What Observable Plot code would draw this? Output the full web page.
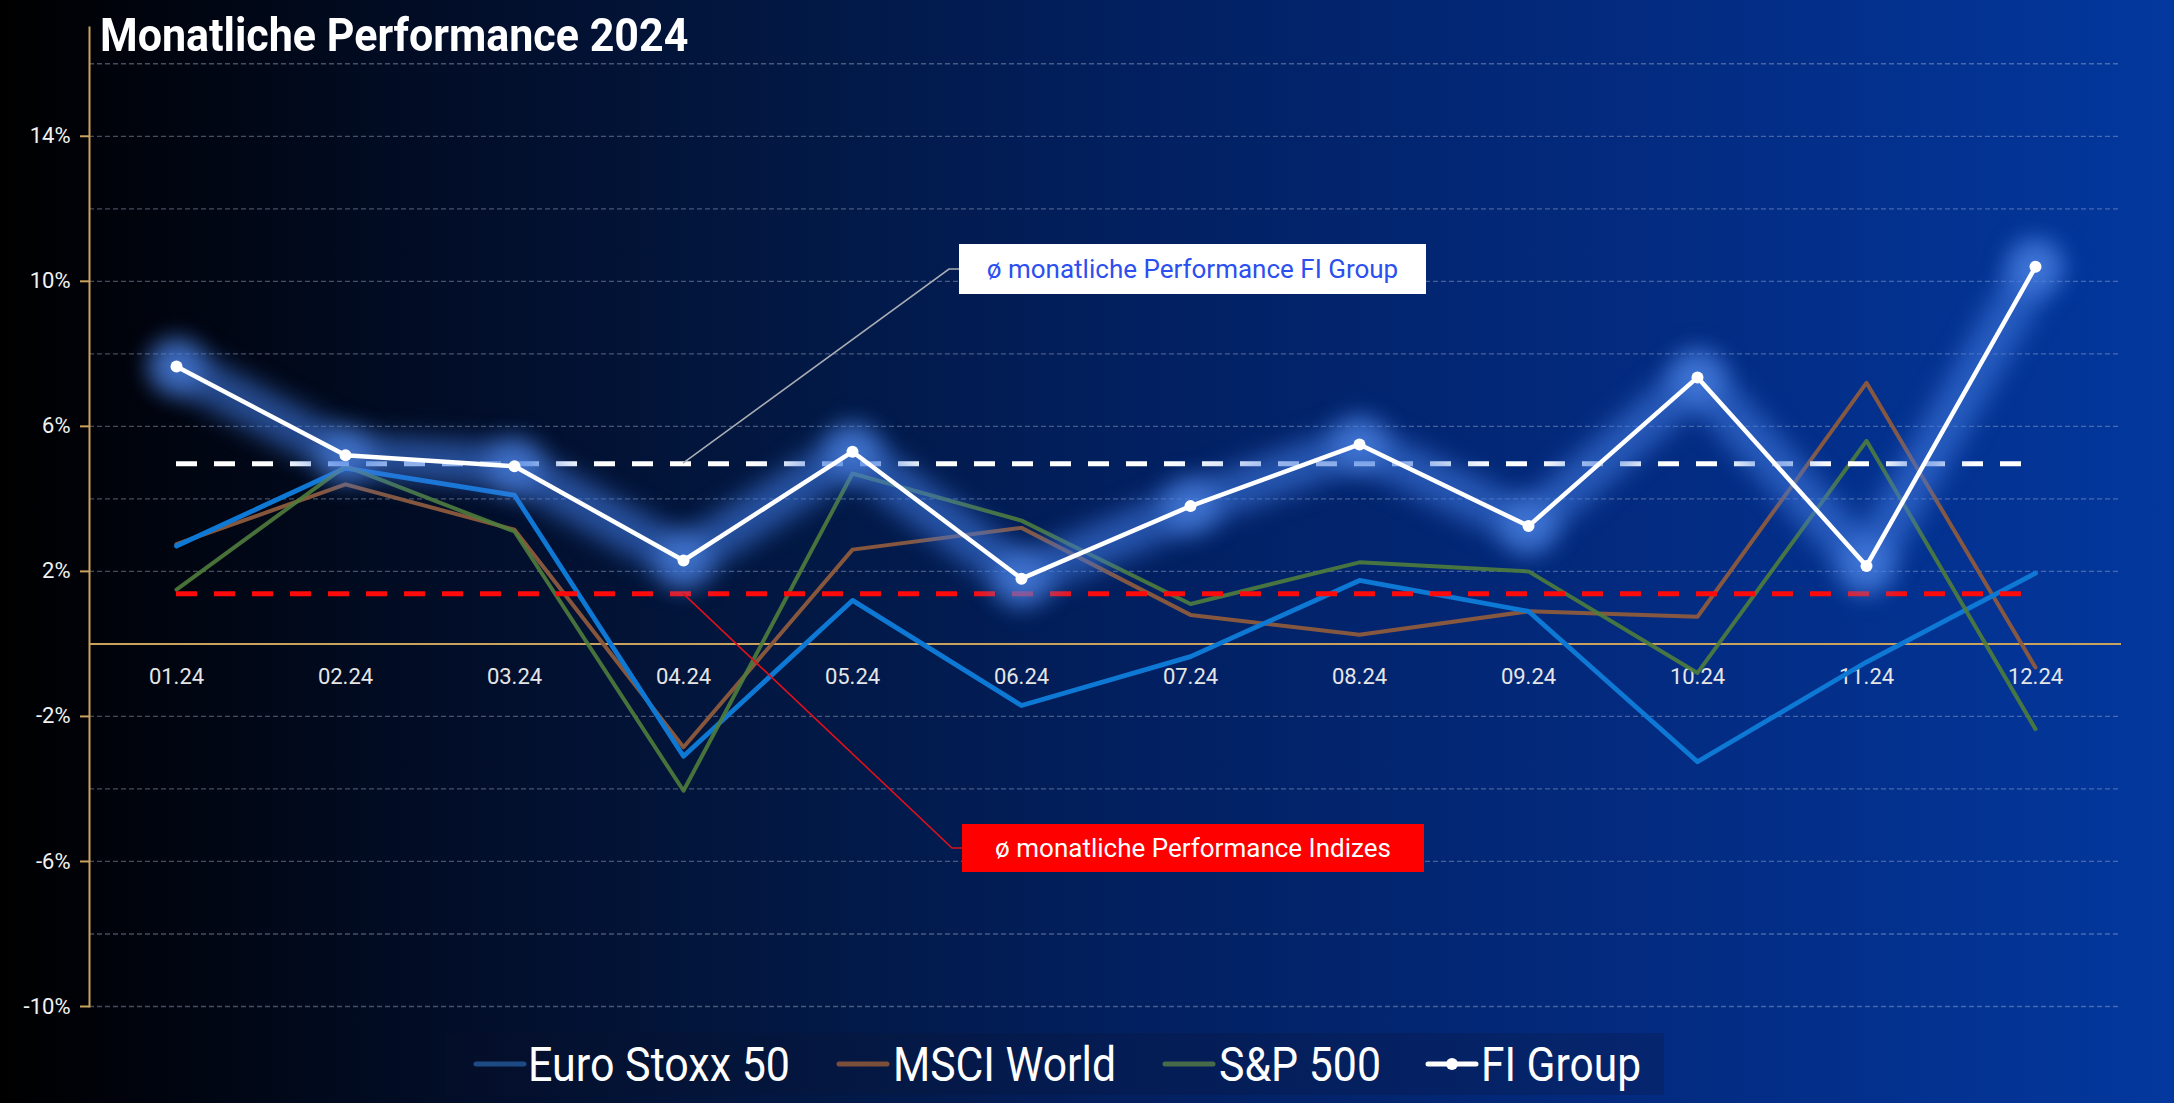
<!DOCTYPE html>
<html><head><meta charset="utf-8">
<script src="https://cdn.jsdelivr.net/npm/d3@7"></script>
<script src="https://cdn.jsdelivr.net/npm/@observablehq/plot@0.6"></script>
<style>
html,body{margin:0;padding:0;width:2174px;height:1103px;overflow:hidden;}
body{position:relative;font-family:Roboto,"Noto Sans",sans-serif;
 background:linear-gradient(to right,#000000 0%,#00040e 7%,#020f2c 23%,#021946 38%,#021f5e 51%,#032a7e 74%,#03369a 97%,#03389e 100%);}
#chart{position:absolute;left:0;top:0;}
#title{position:absolute;left:100px;top:11px;color:#fff;font-weight:700;font-size:47px;line-height:1;
 transform:scaleX(0.915);transform-origin:left top;white-space:nowrap;}
#legend{position:absolute;left:446px;top:1033px;}
.glow{filter:blur(12px);}
</style></head>
<body>
<div id="chart"></div>
<div id="title">Monatliche Performance 2024</div>
<svg id="legend" width="1218" height="62"></svg>
<script>
const months = ["01.24","02.24","03.24","04.24","05.24","06.24","07.24","08.24","09.24","10.24","11.24","12.24"];
const euroStoxx = [2.7, 4.85, 4.1, -3.1, 1.2, -1.7, -0.35, 1.75, 0.9, -3.25, -0.5, 1.95];
const msciWorld = [2.75, 4.4, 3.15, -2.85, 2.6, 3.2, 0.8, 0.25, 0.9, 0.75, 7.2, -0.65];
const sp500 = [1.5, 4.9, 3.1, -4.05, 4.7, 3.4, 1.1, 2.25, 2.0, -0.8, 5.6, -2.35];
const fiGroup = [7.65, 5.2, 4.9, 2.3, 5.3, 1.8, 3.8, 5.5, 3.25, 7.35, 2.15, 10.4];
const avgFI = 4.97;
const avgIndizes = 1.38;
const seriesNames = ["Euro Stoxx 50", "MSCI World", "S&P 500", "FI Group"];
const yTickValues = [14, 10, 6, 2, -2, -6, -10];
const gridValues = [16, 14, 12, 10, 8, 6, 4, 2, -2, -4, -6, -8, -10];
const annotFI = "ø monatliche Performance FI Group";
const annotIdx = "ø monatliche Performance Indizes";
const annotMonth = "04.24";

const lineColors = {"Euro Stoxx 50": "#0e78d5", "MSCI World": "#8d5b3d", "S&P 500": "#4f7d3c", "FI Group": "#ffffff"};
const legendColors = {"Euro Stoxx 50": "#1d4a84", "MSCI World": "#7b4f39", "S&P 500": "#466b4b", "FI Group": "#ffffff"};

const toRows = (name, vals) => months.map((m, i) => ({month: m, series: name, value: vals[i]}));
const euroRows = toRows("Euro Stoxx 50", euroStoxx);
const msciRows = toRows("MSCI World", msciWorld);
const spRows = toRows("S&P 500", sp500);
const fiRows = toRows("FI Group", fiGroup);
const avgRows = [
  {y: avgIndizes, a: months[0], b: months[months.length - 1], c: "#ff0a0a"},
  {y: avgFI, a: months[0], b: months[months.length - 1], c: "#ffffff"}
];

const gold = "#c9a25e";
const font = "Roboto, 'Noto Sans', sans-serif";

const plot = Plot.plot({
  width: 2174, height: 1103,
  marginTop: 27, marginBottom: 97, marginLeft: 89, marginRight: 53,
  style: {background: "transparent", color: "#ffffff", fontFamily: font, overflow: "visible"},
  x: {type: "point", domain: months, padding: 0.5, axis: null},
  y: {domain: [-10, 17], axis: null},
  marks: [
    Plot.ruleY(gridValues, {stroke: "#a6b3cc", strokeOpacity: 0.42, strokeWidth: 1.3, strokeDasharray: "5,3"}),
    Plot.ruleY([0], {stroke: gold, strokeWidth: 2}),
    Plot.frame({anchor: "left", stroke: gold, strokeWidth: 2}),
    Plot.axisY(yTickValues, {tickSize: 9, tickPadding: 10, stroke: gold, strokeWidth: 2, fill: "#f2f2f2",
      fontSize: 22, tickFormat: d => d + "%"}),
    Plot.text(months, {x: d => d, y: () => 0, dy: 33, text: d => d, fill: "#e6e6e6", fontSize: 22}),
    Plot.line(msciRows, {x: "month", y: "value", stroke: lineColors["MSCI World"], strokeWidth: 4, strokeOpacity: 0.95}),
    Plot.line(euroRows, {x: "month", y: "value", stroke: lineColors["Euro Stoxx 50"], strokeWidth: 4.8}),
    Plot.line(spRows, {x: "month", y: "value", stroke: lineColors["S&P 500"], strokeWidth: 4, strokeOpacity: 0.9}),
    Plot.ruleY(avgRows, {y: "y", x1: "a", x2: "b", stroke: "c", strokeWidth: 5, strokeDasharray: "21,17"}),
    Plot.line(fiRows, {x: "month", y: "value", stroke: "#3d76dc", strokeWidth: 44, strokeOpacity: 0.62,
      strokeLinejoin: "round", strokeLinecap: "round", className: "glow"}),
    Plot.dot(fiRows, {x: "month", y: "value", r: 28, fill: "#4f86e6", fillOpacity: 0.6, className: "glow"}),
    Plot.line(fiRows, {x: "month", y: "value", stroke: "#ffffff", strokeWidth: 4.5}),
    Plot.dot(fiRows, {x: "month", y: "value", r: 6, fill: "#ffffff"})
  ]
});
document.getElementById("chart").appendChild(plot);

// annotations anchored via the plot's own scales
const sx = plot.scale("x"), sy = plot.scale("y");
const svg = d3.select(plot);
const ax = sx.apply(annotMonth);
const g = svg.append("g");
function callout(yVal, boxX, boxY, boxW, boxH, lineColor, boxFill, textFill, label) {
  const y0 = sy.apply(yVal);
  const cy = boxY + boxH / 2;
  g.append("polyline")
    .attr("points", `${ax},${y0} ${boxX - 10},${cy} ${boxX},${cy}`)
    .attr("fill", "none").attr("stroke", lineColor).attr("stroke-width", 1.6);
  g.append("rect").attr("x", boxX).attr("y", boxY).attr("width", boxW).attr("height", boxH).attr("fill", boxFill);
  g.append("text").attr("x", boxX + boxW / 2).attr("y", cy).attr("dy", "0.35em")
    .attr("text-anchor", "middle").attr("fill", textFill).attr("font-size", 26)
    .attr("font-family", font).text(label);
}
callout(avgFI, ax + 276, 244, 467, 50, "#a9acb3", "#ffffff", "#2b4ff0", annotFI);
callout(avgIndizes, ax + 279, 824, 462, 48, "#e0101a", "#ff0000", "#ffffff", annotIdx);

// legend
const lg = d3.select("#legend");
lg.append("rect").attr("width", 1218).attr("height", 62).attr("fill", "rgba(12,16,44,0.22)");
const legendLayout = [
  {swatch: 30, text: 82, len: 262},
  {swatch: 393, text: 447, len: 223},
  {swatch: 719, text: 773, len: 162},
  {swatch: 982, text: 1035, len: 160}
];
seriesNames.forEach((name, i) => {
  const L = legendLayout[i];
  lg.append("line").attr("x1", L.swatch).attr("x2", L.swatch + 48).attr("y1", 31).attr("y2", 31)
    .attr("stroke", legendColors[name]).attr("stroke-width", 5).attr("stroke-linecap", "round");
  if (name === "FI Group") lg.append("circle").attr("cx", L.swatch + 24).attr("cy", 31).attr("r", 6).attr("fill", "#fff");
  lg.append("text").attr("x", L.text).attr("y", 48).attr("fill", "#fff").attr("font-size", 48)
    .attr("font-family", font).attr("textLength", L.len).attr("lengthAdjust", "spacingAndGlyphs").text(name);
});
</script>
</body></html>
